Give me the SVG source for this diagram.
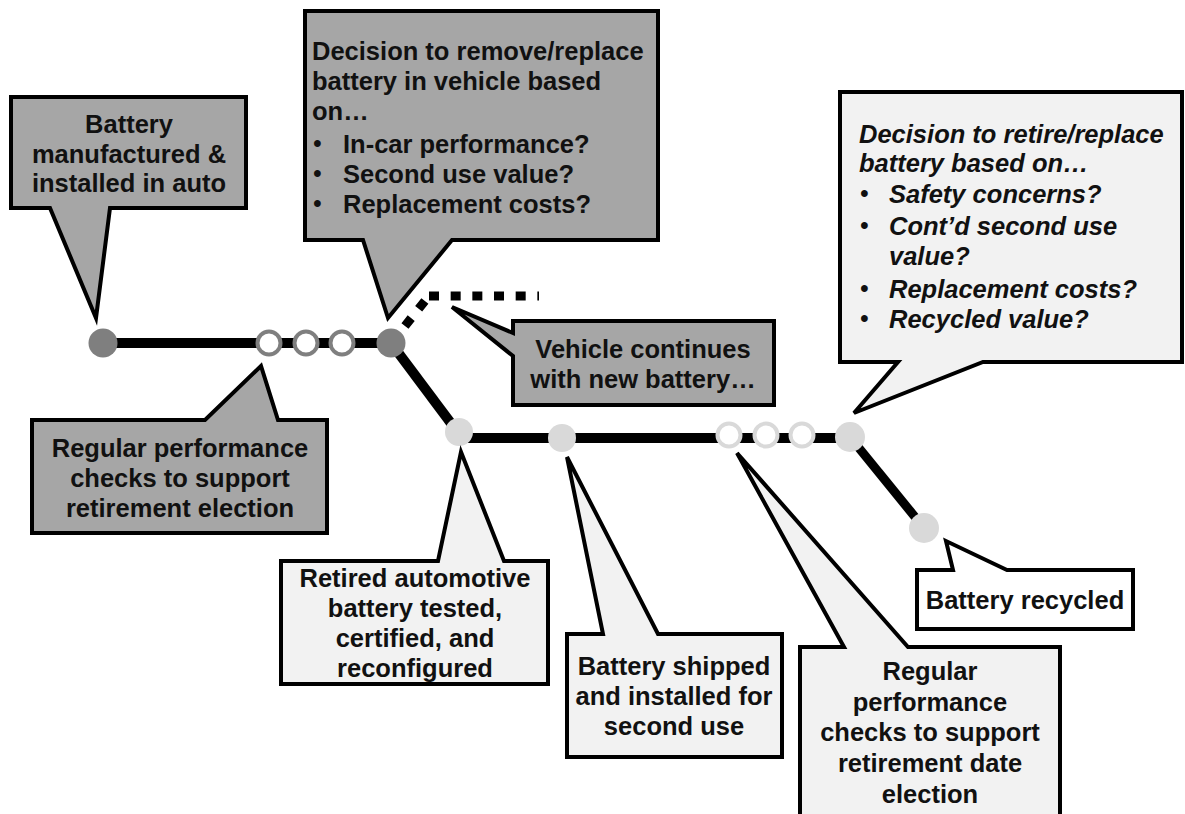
<svg xmlns="http://www.w3.org/2000/svg" width="1185" height="814" viewBox="0 0 1185 814">
<style>
.dark{fill:#a6a6a6;stroke:#000;stroke-width:4;stroke-linejoin:miter}
.light{fill:#f2f2f2;stroke:#000;stroke-width:4;stroke-linejoin:miter}
.white{fill:#ffffff;stroke:#000;stroke-width:4;stroke-linejoin:miter}
text{font-family:"Liberation Sans",Arial,sans-serif;font-weight:bold;font-size:25.5px;fill:#111}
.c{text-anchor:middle}
.i{font-style:italic}
.b{font-size:25px;font-weight:normal}
.line{stroke:#000;stroke-width:10;fill:none}
.dash{stroke:#000;stroke-width:9;fill:none}
.dk{fill:#7f7f7f}
.lt{fill:#d9d9d9}
.hdk{fill:#fff;stroke:#7f7f7f;stroke-width:4}
.hlt{fill:#fff;stroke:#d9d9d9;stroke-width:4}
</style>
<rect width="1185" height="814" fill="#fff"/>
<g id="connectors">
<line class="line" x1="103" y1="343" x2="391" y2="343"/>
<line class="line" x1="391" y1="343" x2="459" y2="434"/>
<line class="line" x1="459" y1="438" x2="850" y2="438"/>
<line class="line" x1="850" y1="437" x2="924" y2="528" style="stroke-width:9"/>
<path class="dash" d="M401 331 L428 297" stroke-dasharray="10 12" stroke-dashoffset="15.6"/>
<path class="dash" d="M429 296 H539" stroke-dasharray="10 11.67"/>
</g>
<g id="markers">
<circle class="dk" cx="103" cy="343" r="14.5"/>
<circle class="hdk" cx="269" cy="343" r="11.5"/>
<circle class="hdk" cx="306" cy="343" r="11.5"/>
<circle class="hdk" cx="342" cy="343" r="11.5"/>
<circle class="dk" cx="391" cy="343" r="14.5"/>
<circle class="lt" cx="459" cy="432" r="14"/>
<circle class="lt" cx="562" cy="438" r="14"/>
<circle class="hlt" cx="729" cy="435" r="11.5"/>
<circle class="hlt" cx="766" cy="435" r="11.5"/>
<circle class="hlt" cx="802" cy="435" r="11.5"/>
<circle class="lt" cx="850" cy="437" r="15"/>
<circle class="lt" cx="924" cy="528" r="15"/>
</g>
<g id="manufactured">
<path class="dark" d="M11 97 H246 V208 H110 L96 318 L50 208 H11 Z"/>
<text class="c" x="129" y="133">Battery</text>
<text class="c" x="129" y="163">manufactured &amp;</text>
<text class="c" x="129" y="192">installed in auto</text>
</g>
<g id="decision-remove">
<path class="dark" d="M305 11 H658 V240 H452 L388 318 L363 240 H305 Z"/>
<text x="312" y="60">Decision to remove/replace</text>
<text x="312" y="90">battery in vehicle based</text>
<text x="312" y="120">on…</text>
<text class="b" x="313" y="152">•</text><text x="343" y="153">In-car performance?</text>
<text class="b" x="313" y="182">•</text><text x="343" y="183">Second use value?</text>
<text class="b" x="313" y="212">•</text><text x="343" y="213">Replacement costs?</text>
</g>
<g id="vehicle-continues">
<path class="dark" d="M513 321 H774 V405 H513 V356 L452 307 L513 333 Z"/>
<text class="c" x="643" y="358">Vehicle continues</text>
<text class="c" x="643" y="388">with new battery…</text>
</g>
<g id="checks-1">
<path class="dark" d="M32 420 H205 L261 366 L278 420 H327 V533 H32 Z"/>
<text class="c" x="180" y="457">Regular performance</text>
<text class="c" x="180" y="487">checks to support</text>
<text class="c" x="180" y="517">retirement election</text>
</g>
<g id="retired">
<path class="light" d="M281 561 H438 L461 452 L504 561 H548 V684 H281 Z"/>
<text class="c" x="415" y="587">Retired automotive</text>
<text class="c" x="415" y="617">battery tested,</text>
<text class="c" x="415" y="647">certified, and</text>
<text class="c" x="415" y="677">reconfigured</text>
</g>
<g id="shipped">
<path class="light" d="M567 634 H603 L567 457 L658 634 H782 V757 H567 Z"/>
<text class="c" x="674" y="675">Battery shipped</text>
<text class="c" x="674" y="705">and installed for</text>
<text class="c" x="674" y="735">second use</text>
</g>
<g id="checks-2">
<path class="light" d="M800 647 H844 L737 453 L908 647 H1060 V840 H800 Z"/>
<text class="c" x="930" y="680">Regular</text>
<text class="c" x="930" y="711">performance</text>
<text class="c" x="930" y="741">checks to support</text>
<text class="c" x="930" y="772">retirement date</text>
<text class="c" x="930" y="803">election</text>
</g>
<g id="recycled">
<path class="white" d="M917 570 H953 L946 541 L1007 570 H1133 V629 H917 Z"/>
<text class="c" x="1025" y="609">Battery recycled</text>
</g>
<g id="decision-retire">
<path class="light" d="M840 92 H1182 V362 H983 L854 413 L898 362 H840 Z"/>
<text class="i" x="859" y="143">Decision to retire/replace</text>
<text class="i" x="859" y="172">battery based on…</text>
<text class="b" x="860" y="202">•</text><text class="i" x="889" y="203">Safety concerns?</text>
<text class="b" x="860" y="234">•</text><text class="i" x="889" y="235">Cont’d second use</text>
<text class="i" x="889" y="265">value?</text>
<text class="b" x="860" y="297">•</text><text class="i" x="889" y="298">Replacement costs?</text>
<text class="b" x="860" y="327">•</text><text class="i" x="889" y="328">Recycled value?</text>
</g>
</svg>
